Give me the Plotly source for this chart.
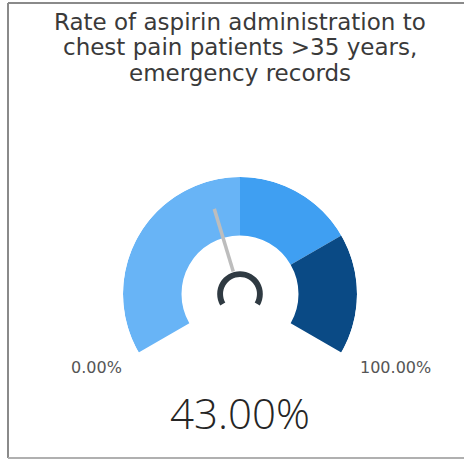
import plotly.graph_objects as go

# Gauge data (percent)
value = 43.0
gauge_min = 0.0
gauge_max = 100.0
band_starts = [0.0, 50.0, 75.0]
band_ends = [50.0, 75.0, 100.0]
band_colors = ["#68b4f6", "#3f9ff2", "#0a4a85"]

title_lines = [
    "Rate of aspirin administration to",
    "chest pain patients >35 years,",
    "emergency records",
]

SPAN = 240.0  # sweep of the dial in degrees


def to_deg(v):
    return (v - gauge_min) / (gauge_max - gauge_min) * SPAN


W, H = 464, 462
cx, cy, R = 240, 294, 117

fig = go.Figure()

# Coloured bands of the dial
fig.add_trace(go.Barpolar(
    r=[0.5] * len(band_starts),
    base=[0.5] * len(band_starts),
    theta=[(to_deg(s) + to_deg(e)) / 2 for s, e in zip(band_starts, band_ends)],
    width=[to_deg(e) - to_deg(s) for s, e in zip(band_starts, band_ends)],
    marker=dict(color=band_colors, line=dict(width=0)),
    hoverinfo="skip",
))

# Small hub arc in the centre
fig.add_trace(go.Barpolar(
    r=[0.05], base=[0.145],
    theta=[to_deg((gauge_min + gauge_max) / 2)],
    width=[SPAN],
    marker=dict(color="#2f3a42", line=dict(width=0)),
    hoverinfo="skip",
))

# Needle
fig.add_trace(go.Scatterpolar(
    r=[0.2, 0.76],
    theta=[to_deg(value), to_deg(value)],
    mode="lines",
    line=dict(color="#bdbdbd", width=3.5),
    hoverinfo="skip",
))

fig.update_layout(
    width=W, height=H,
    margin=dict(l=0, r=0, t=0, b=0),
    paper_bgcolor="white",
    plot_bgcolor="white",
    showlegend=False,
    barmode="overlay",
    polar=dict(
        domain=dict(x=[(cx - R) / W, (cx + R) / W],
                    y=[(H - cy - R) / H, (H - cy + R) / H]),
        bgcolor="rgba(0,0,0,0)",
        hole=0,
        radialaxis=dict(range=[0, 1], visible=False, showgrid=False),
        angularaxis=dict(direction="clockwise", rotation=210,
                         visible=False, showgrid=False, showline=False,
                         ticks=""),
    ),
)

# Title lines
for i, line in enumerate(title_lines):
    fig.add_annotation(
        x=240 / W, y=1 - (22 + i * 25.5) / H, xref="paper", yref="paper",
        text=line, showarrow=False, xanchor="center", yanchor="middle",
        font=dict(family="DejaVu Sans", size=23, color="#3a3a3a"),
    )

# Min / max labels
fig.add_annotation(x=96 / W, y=1 - 367 / H, xref="paper", yref="paper",
                   text=f"{gauge_min:.2f}%", showarrow=False,
                   xanchor="center", yanchor="middle",
                   font=dict(family="DejaVu Sans", size=16, color="#555555"))
fig.add_annotation(x=395 / W, y=1 - 367 / H, xref="paper", yref="paper",
                   text=f"{gauge_max:.2f}%", showarrow=False,
                   xanchor="center", yanchor="middle",
                   font=dict(family="DejaVu Sans", size=16, color="#555555"))

# Value readout
fig.add_annotation(x=240 / W, y=1 - 412 / H, xref="paper", yref="paper",
                   text=f"{value:.2f}%", showarrow=False,
                   xanchor="center", yanchor="middle",
                   font=dict(family="Open Sans", size=42, color="#252525",
                             weight=300))

# Card border (left, top, bottom)
border = "#8a8a8a"
fig.add_shape(type="line", xref="paper", yref="paper",
              x0=8 / W, x1=8 / W, y0=1 - 3 / H, y1=1 - 458 / H,
              line=dict(color=border, width=2))
fig.add_shape(type="line", xref="paper", yref="paper",
              x0=8 / W, x1=1, y0=1 - 3 / H, y1=1 - 3 / H,
              line=dict(color=border, width=2))
fig.add_shape(type="line", xref="paper", yref="paper",
              x0=8 / W, x1=1, y0=1 - 458 / H, y1=1 - 458 / H,
              line=dict(color="#b0b0b0", width=2))

fig.write_html("out.html")
